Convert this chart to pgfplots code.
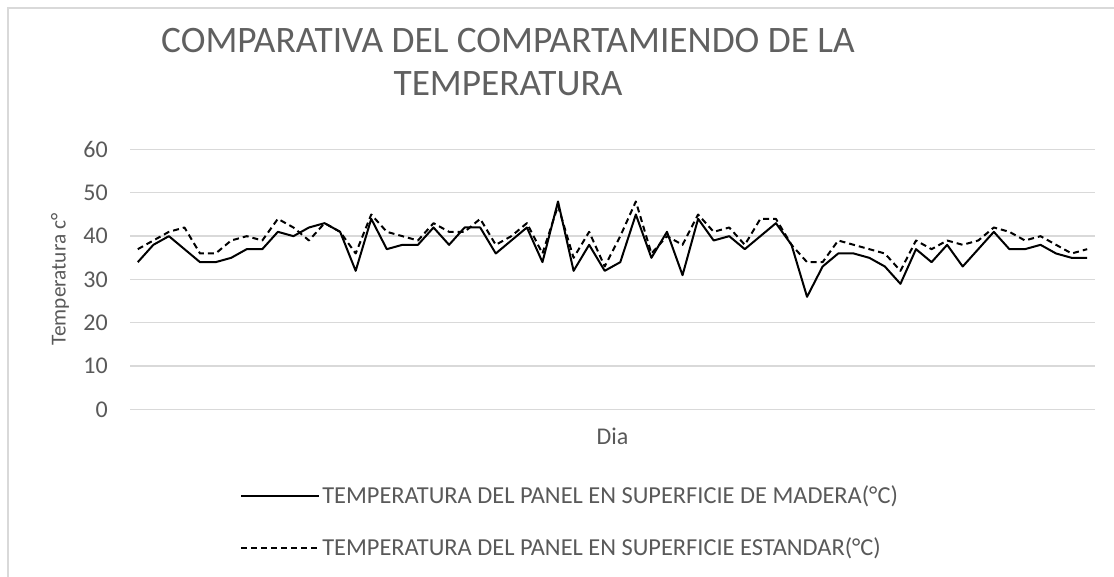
\documentclass[border=0pt]{standalone}
\usepackage{fontspec}
\setmainfont{Carlito}
\usepackage{pgfplots}
\usepackage{pgfplotstable}
\pgfplotsset{compat=1.18}
\definecolor{txt}{RGB}{89,89,89}
\definecolor{ttl}{RGB}{96,96,96}
\definecolor{grd}{RGB}{217,217,217}
\pgfplotstableread{
x m e
0 34 37
1 38 39
2 40 41
3 37 42
4 34 36
5 34 36
6 35 39
7 37 40
8 37 39
9 41 44
10 40 42
11 42 39
12 43 43
13 41 41
14 32 36
15 44 45
16 37 41
17 38 40
18 38 39
19 42 43
20 38 41
21 42 41
22 42 44
23 36 38
24 39 40
25 42 43
26 34 36
27 48 47
28 32 35
29 38 41
30 32 33
31 34 40
32 45 48
33 35 36
34 41 40
35 31 38
36 44 45
37 39 41
38 40 42
39 37 38
40 40 44
41 43 44
42 38 38
43 26 34
44 33 34
45 36 39
46 36 38
47 35 37
48 33 36
49 29 32
50 37 39
51 34 37
52 38 39
53 33 38
54 37 39
55 41 42
56 37 41
57 37 39
58 38 40
59 36 38
60 35 36
61 35 37
}\datatable
\begin{document}
\begin{tikzpicture}[x=0.75pt,y=0.75pt]
\useasboundingbox (0,0) rectangle (1114,577);
\draw[grd, line width=1pt] (8,0) -- (8,569) -- (1114,569);
\node[ttl, font=\fontsize{28}{32.5}\selectfont, align=center] at (508,515) {COMPARATIVA DEL COMPARTAMIENDO DE LA\\TEMPERATURA};
\begin{axis}[
  at={(97.5pt,125.625pt)}, anchor=south west,
  scale only axis, width=723.75pt, height=195pt,
  xmin=-0.5, xmax=61.5, ymin=0, ymax=60,
  ytick={0,10,...,60}, xtick=\empty,
  axis line style={draw=none},
  ymajorgrids, grid style={grd, line width=1pt},
  major tick length=0pt,
  tick label style={txt, font=\fontsize{18}{21}\selectfont},
  /pgf/number format/assume math mode=true,
  yticklabel style={anchor=east, inner sep=0pt, xshift=-16.5pt},
  every axis y label/.style={at={(axis description cs:0,0.5)}, xshift=-52.5pt, rotate=90, anchor=center, font=\fontsize{16}{19}\selectfont},
  every axis x label/.style={at={(axis description cs:0.5,0)}, yshift=-20pt, anchor=center, font=\fontsize{18}{21}\selectfont},
  label style={txt},
  ylabel={Temperatura c°}, xlabel={Dia},
  legend style={at={(axis description cs:0.114,-0.285)}, anchor=north west, draw=none, fill=none,
    font=\fontsize{18.3}{21}\selectfont, text=txt, row sep=21pt, inner sep=0pt,
    nodes={inner sep=1.5pt}},
  legend cell align=left,
  legend image code/.code={\draw[#1] (0pt,0pt) -- (58.5pt,0pt);},
]
\addplot[black, line width=1.5pt, line join=round] table[x=x,y=m]{\datatable};
\addlegendentry{TEMPERATURA DEL PANEL EN SUPERFICIE DE MADERA(°C)}
\addplot[black, line width=1.5pt, line join=round, dash pattern=on 4.5pt off 3pt] table[x=x,y=e]{\datatable};
\addlegendentry{TEMPERATURA DEL PANEL EN SUPERFICIE ESTANDAR(°C)}
\end{axis}
\end{tikzpicture}
\end{document}
